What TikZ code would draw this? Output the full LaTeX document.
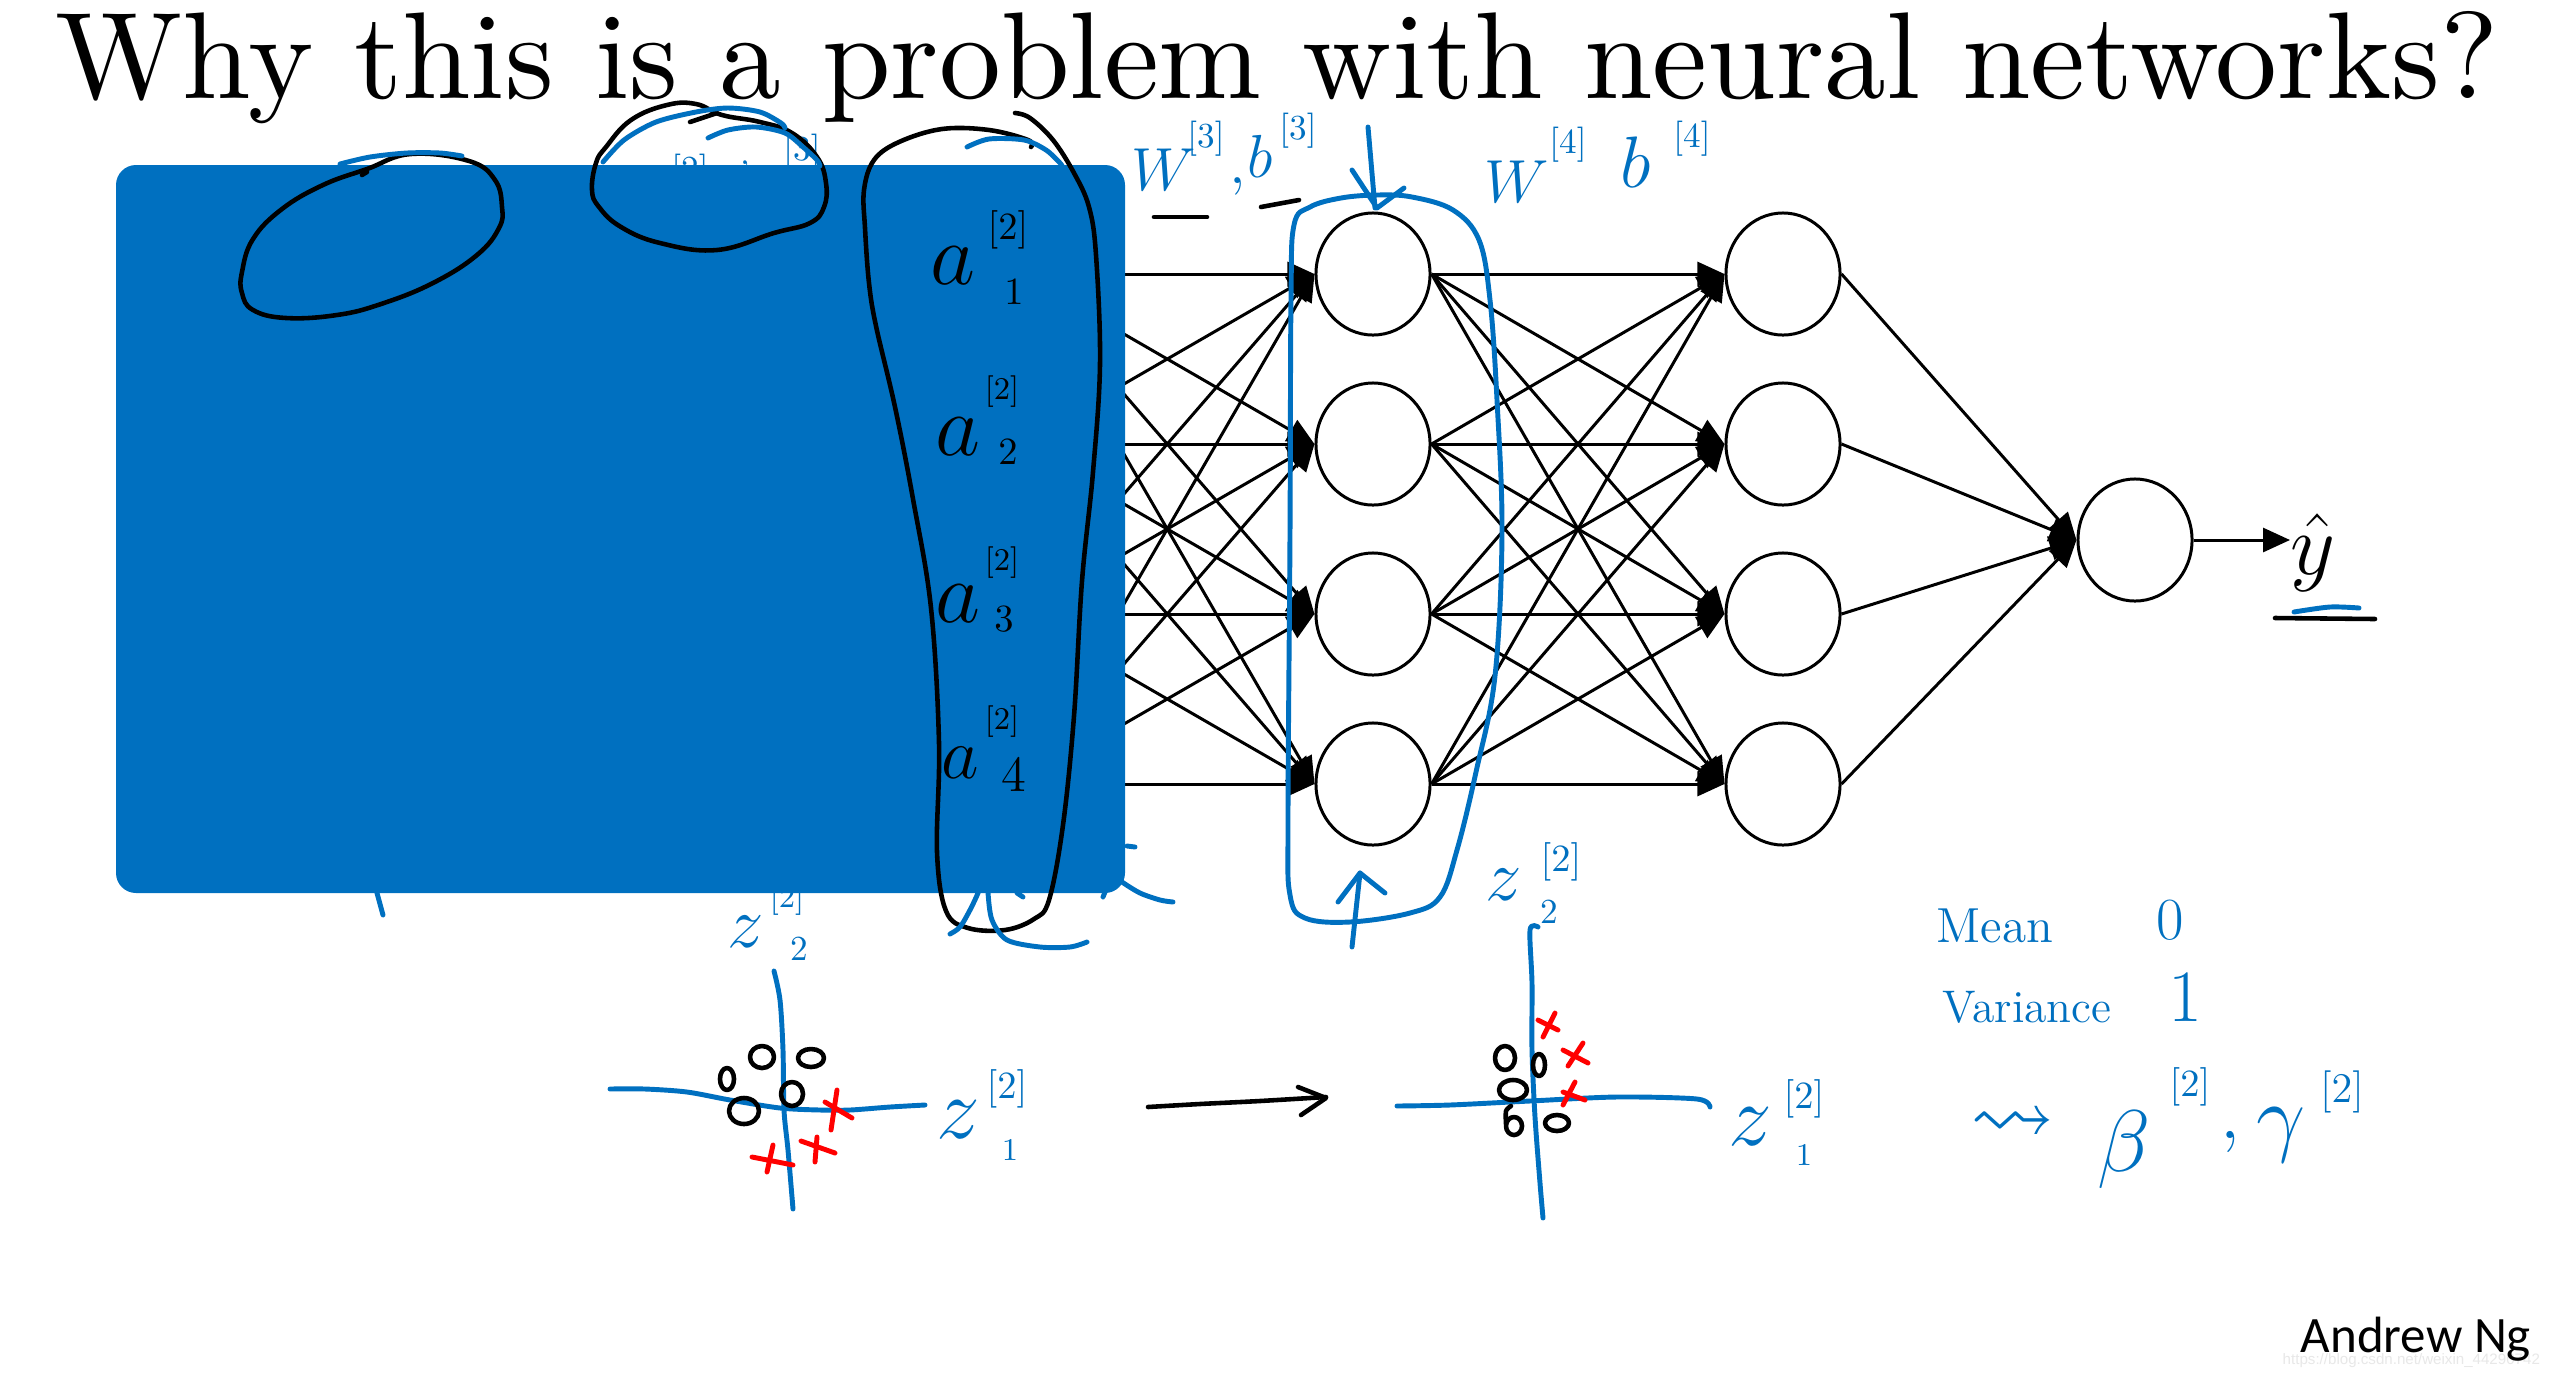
\documentclass[tikz,border=0pt]{standalone}
\usepackage{amssymb}
\usepackage{graphicx}
\usepackage{fontspec}
\usetikzlibrary{shapes.geometric,arrows.meta}
\newfontfamily\calibri{Carlito}
\newfontfamily\arialf{Liberation Sans}
\definecolor{inkblue}{RGB}{0,112,192}
\definecolor{boxblue}{RGB}{0,112,192}
\tikzset{
  neuron/.style={ellipse,draw=black,line width=0.85pt,minimum width=1.14cm,minimum height=1.22cm,inner sep=0pt},
  edge/.style={line width=0.85pt,-{Triangle[length=0.27cm,width=0.24cm]}},
  kink/.style={draw=black,line width=1.3pt,line cap=round,line join=round},
  bink/.style={draw=inkblue,line width=1.4pt,line cap=round,line join=round},
  rink/.style={draw=red,line width=1.4pt,line cap=round},
  hw/.style={inner sep=0pt,text=inkblue},
  hk/.style={inner sep=0pt,text=black},
  fs/.style={font=\fontsize{#1}{#1}\selectfont},
}
\begin{document}
\begin{tikzpicture}[x=0.01cm,y=-0.01cm]
\useasboundingbox (0,0) rectangle (2560,1378);
\fill[white] (0,0) rectangle (2560,1378);

% title
\node[anchor=base,inner sep=0pt] (title) at (1277,98) {\resizebox{24.41cm}{!}{\fontsize{10}{12}\selectfont Why this is a problem with neural networks?}};

% network
\foreach \i/\yy in {1/274,2/444,3/614,4/784} {
  \coordinate (h\i) at (1020,\yy);
  \node[neuron] (p\i) at (1373,\yy) {};
  \node[neuron] (q\i) at (1783,\yy) {};
}
\node[neuron] (o) at (2135,540) {};
\node[anchor=west,inner sep=0pt,fs=26] (yhat) at (2290,553) {$\hat{y}$};
\foreach \i in {1,...,4} {
  \foreach \j in {1,...,4} {
    \draw[edge] (h\i) -- (p\j.west);
    \draw[edge] (p\i.east) -- (q\j.west);
  }
  \draw[edge] (q\i.east) -- (o.west);
}
\draw[edge] (o.east) -- (o.east -| yhat.west);

% hidden blue scribbles (partly covered)
\node[hw,fs=10] (hid1) at (690,172) {$[2]$};
\node[hw,fs=10] (hid2) at (745,166) {$,$};
\node[hw,fs=10] (hid3) at (802,152) {$[3]$};

% blue panel
\fill[boxblue,rounded corners=0.2cm] (116,165) rectangle (1125,893);

% black ink on the panel
\draw[kink] plot[smooth cycle,tension=0.7] coordinates {(411,154) (469,161) (495,180) (502,207) (499,228) (477,255) (433,283) (381,304) (337,315) (286,318) (253,310) (242,293) (242,272) (253,239) (282,209) (323,185) (367,169)};
\draw[kink] (362,175) -- (367,172);
\draw[kink] plot[smooth cycle,tension=0.7] coordinates {(606,147) (631,120) (667,105) (696,104) (722,115) (760,122) (792,133) (817,157) (826,183) (824,207) (810,223) (774,233) (717,250) (660,243) (621,227) (599,207) (592,190) (596,163)};
\draw[kink] (690,122) -- (717,113);
\draw[kink] plot[smooth,tension=0.6] coordinates {(1031,147) (1028,140) (989,130) (942,129) (899,142) (874,160) (864,190) (865,228) (869,283) (876,326) (895,407) (913,499) (931,608) (939,743) (937,852) (946,911) (968,928) (1005,930) (1034,919) (1049,900) (1063,825) (1074,716) (1082,581) (1093,472) (1100,364) (1096,255) (1089,207) (1074,173) (1053,140) (1030,118) (1015,113)};

% a labels
\node[hk,fs=24] (a1) at (953,266) {$a$};
\node[hk,fs=11] (a1s) at (1008,230) {$[2]$};
\node[hk,fs=11] (a1b) at (1014,292) {$1$};
\node[hk,fs=24] (a2) at (958,437) {$a$};
\node[hk,fs=9] (a2s) at (1002,392) {$[2]$};
\node[hk,fs=11] (a2b) at (1008,452) {$2$};
\node[hk,fs=24] (a3) at (958,604) {$a$};
\node[hk,fs=9] (a3s) at (1002,563) {$[2]$};
\node[hk,fs=11] (a3b) at (1004,619) {$3$};
\node[hk,fs=20] (a4) at (960,763) {$a$};
\node[hk,fs=9] (a4s) at (1002,722) {$[2]$};
\node[hk,fs=14] (a4b) at (1014,775) {$4$};

% blue ink top
\draw[bink] plot[smooth] coordinates {(340,164) (370,157) (407,153) (440,153) (462,156)};
\draw[bink] plot[smooth] coordinates {(603,162) (624,140) (656,122) (696,112) (728,108) (760,112) (781,123) (785,128)};
\draw[bink] plot[smooth] coordinates {(708,138) (728,130) (756,127) (785,133) (803,147) (817,160) (820,166)};
\draw[bink] plot[smooth] coordinates {(967,147) (989,139) (1024,140) (1046,150) (1060,163) (1063,168)};

% weights labels
\node[hw,fs=17] (w3) at (1164,170) {$W$};
\node[hw,fs=10] (w3s) at (1206,139) {$[3]$};
\node[hw,fs=17] (w3c) at (1238,186) {$,$};
\node[hw,fs=19] (b3) at (1260,156) {$b$};
\node[hw,fs=10] (b3s) at (1298,131) {$[3]$};
\node[hw,fs=17] (w4) at (1517,182) {$W$};
\node[hw,fs=10] (w4s) at (1568,145) {$[4]$};
\node[hw,fs=20] (b4) at (1636,162) {$b$};
\node[hw,fs=10] (b4s) at (1692,139) {$[4]$};
\draw[kink] (1154,217) -- (1207,217);
\draw[kink] (1261,207) -- (1299,200);

% loop round layer 3 and arrows
\draw[bink] (1368,127) -- (1375,208);
\draw[bink] (1352,170) -- (1377,208) -- (1404,188);
\draw[bink] plot[smooth cycle,tension=0.6] coordinates {(1290,533) (1291,300) (1294,225) (1310,207) (1341,198) (1377,195) (1412,197) (1453,210) (1479,240) (1490,300) (1497,400) (1502,533) (1495,676) (1476,772) (1457,850) (1440,897) (1410,913) (1350,922) (1305,918) (1290,895) (1288,820)};
\draw[bink] (1352,947) -- (1360,873);
\draw[bink] (1338,902) -- (1360,873) -- (1385,893);

% yhat underline
\draw[kink] (2275,618) -- (2375,619);
\draw[bink] plot[smooth] coordinates {(2294,612) (2330,607) (2359,608)};

% blue marks under the panel
\draw[bink] (375,885) -- (377,893) -- (383,915);
\draw[bink] plot[smooth] coordinates {(950,934) (960,927) (970,910) (978,893) (982,880)};
\draw[bink] plot[smooth] coordinates {(988,880) (988,893) (992,920) (1007,940) (1040,947) (1070,947) (1087,942)};
\draw[bink] (1017,893) -- (1023,897);
\draw[bink] (1103,897) -- (1105,892);
\draw[bink] plot[smooth] coordinates {(1118,878) (1122,882) (1140,893) (1160,900) (1173,902)};
\draw[bink] (1127,846) -- (1135,847);

% plot 1
\draw[bink] plot[smooth] coordinates {(610,1089) (645,1089) (687,1092) (730,1100) (780,1108) (820,1110) (850,1110) (890,1107) (925,1105)};
\draw[bink] plot[smooth] coordinates {(774,971) (780,1000) (783,1050) (784,1110) (788,1150) (793,1209)};
\draw[kink] (762,1057) ellipse [x radius=0.12cm,y radius=0.11cm];
\draw[kink] (811,1058) ellipse [x radius=0.13cm,y radius=0.09cm];
\draw[kink] (727,1079) ellipse [x radius=0.07cm,y radius=0.11cm];
\draw[kink] (792,1094) ellipse [x radius=0.11cm,y radius=0.12cm];
\draw[kink] (744,1111) ellipse [x radius=0.15cm,y radius=0.13cm];
\draw[rink] (837,1090) -- (831,1130) (825,1102) -- (852,1118);
\draw[rink] (817,1137) -- (815,1162) (801,1141) -- (835,1153);
\draw[rink] (773,1145) -- (767,1172) (752,1157) -- (793,1165);
\node[hw,fs=22] (z2a) at (746,932) {$z$};
\node[hw,fs=9] (z2as) at (787,900) {$[2]$};
\node[hw,fs=10] (z2ab) at (799,949) {$2$};
\node[hw,fs=26] (z1a) at (958,1120) {$z$};
\node[hw,fs=11] (z1as) at (1007,1089) {$[2]$};
\node[hw,fs=9] (z1ab) at (1010,1150) {$1$};

% arrow between plots
\draw[kink] plot[smooth] coordinates {(1148,1107) (1200,1104) (1260,1101) (1326,1097)};
\draw[kink] (1298,1087) -- (1326,1098) -- (1301,1115);

% plot 2
\draw[bink] plot[smooth] coordinates {(1397,1106) (1450,1105) (1530,1101) (1617,1097) (1697,1099) (1710,1107)};
\draw[bink] plot[smooth] coordinates {(1538,927) (1530,930) (1532,983) (1532,1050) (1535,1117) (1540,1183) (1543,1218)};
\draw[kink] (1505,1058) ellipse [x radius=0.10cm,y radius=0.12cm];
\draw[kink] (1539,1065) ellipse [x radius=0.06cm,y radius=0.11cm];
\draw[kink] (1513,1090) ellipse [x radius=0.14cm,y radius=0.10cm];
\draw[kink] (1514,1126) ellipse [x radius=0.08cm,y radius=0.09cm];
\draw[kink] plot[smooth] coordinates {(1506,1124) (1506,1111) (1511,1106)};
\draw[kink] (1557,1123) ellipse [x radius=0.12cm,y radius=0.08cm];
\draw[rink] (1555,1013) -- (1543,1037) (1538,1020) -- (1558,1030);
\draw[rink] (1583,1043) -- (1568,1066) (1563,1050) -- (1588,1063);
\draw[rink] (1575,1082) -- (1563,1105) (1563,1092) -- (1585,1100);
\node[hw,fs=22] (z2b) at (1504,885) {$z$};
\node[hw,fs=11] (z2bs) at (1561,862) {$[2]$};
\node[hw,fs=10] (z2bb) at (1549,912) {$2$};
\node[hw,fs=26] (z1b) at (1750,1127) {$z$};
\node[hw,fs=11] (z1bs) at (1804,1099) {$[2]$};
\node[hw,fs=9] (z1bb) at (1804,1155) {$1$};

% mean / variance
\node[hw,fs=14] (mean) at (1995,926) {Mean};
\node[hw,fs=17] (zero) at (2170,920) {0};
\node[hw,fs=13] (var) at (2027,1007) {Variance};
\node[hw,fs=21] (one) at (2185,997) {1};
\node[hw,fs=24] (sq) at (2013,1126) {$\rightsquigarrow$};
\node[hw,fs=30] (beta) at (2124,1150) {$\beta$};
\node[hw,fs=11] (betas) at (2190,1087) {$[2]$};
\node[hw,fs=20] (comma) at (2230,1142) {$,$};
\node[hw,fs=28] (gam) at (2281,1135) {$\gamma$};
\node[hw,fs=12] (gams) at (2342,1092) {$[2]$};

% footer
\node[anchor=base west,inner sep=0pt,text=black!9,font=\arialf\fontsize{4.3}{5}\selectfont] (wm) at (2282,1364) {https://blog.csdn.net/weixin\_44290742};
\node[anchor=base west,inner sep=0pt,font=\calibri\fontsize{14.5}{15}\selectfont] (author) at (2300,1352) {Andrew Ng};
\end{tikzpicture}
\end{document}
